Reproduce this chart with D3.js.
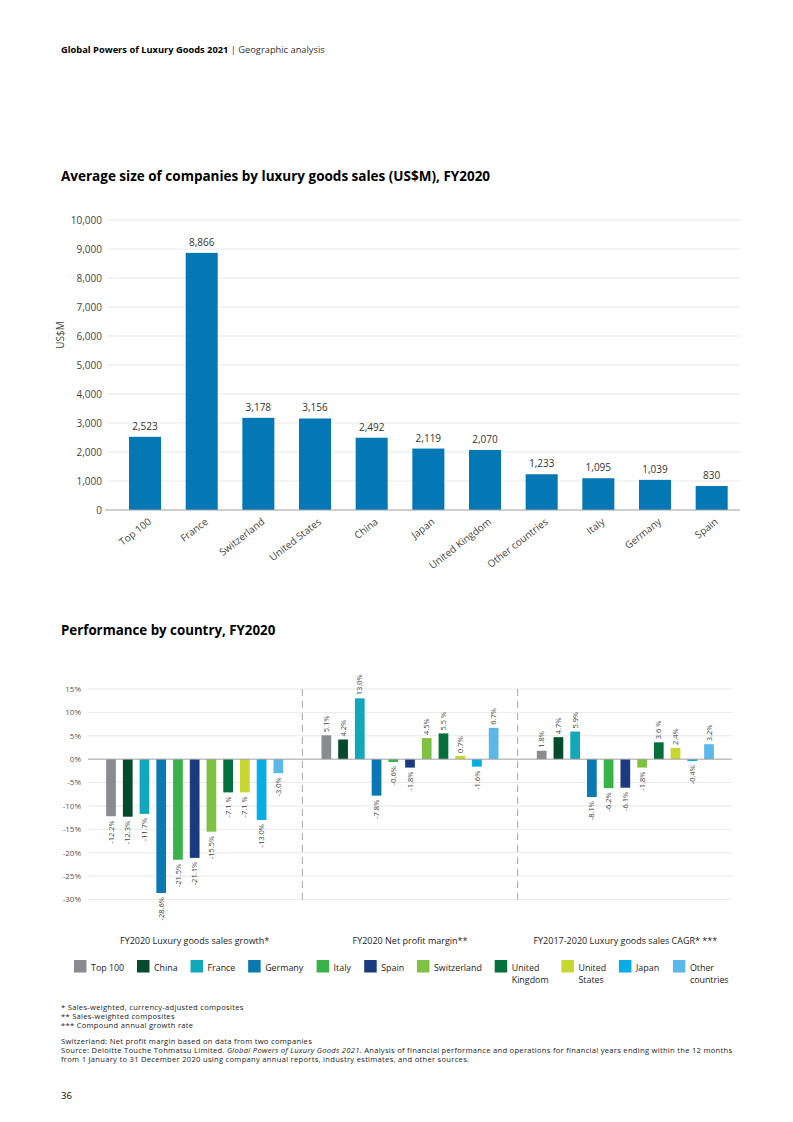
<!DOCTYPE html>
<html><head><meta charset="utf-8">
<script src="https://cdn.jsdelivr.net/npm/d3@7"></script>
<style>
body{margin:0;background:#fff}
svg{display:block;font-family:"Open Sans",sans-serif}
</style>
</head><body>
<svg id="c" width="793" height="1122"></svg>
<script>
// ---------- data: chart 1 ----------
const sizeCategories = ["Top 100","France","Switzerland","United States","China","Japan","United Kingdom","Other countries","Italy","Germany","Spain"];
const sizeValues = [2523,8866,3178,3156,2492,2119,2070,1233,1095,1039,830];
const sizeTicks = [0,1000,2000,3000,4000,5000,6000,7000,8000,9000,10000];

// ---------- data: chart 2 ----------
const perfCountries = ["Top 100","China","France","Germany","Italy","Spain","Switzerland","United Kingdom","United States","Japan","Other countries"];
const legendLines = [["Top 100"],["China"],["France"],["Germany"],["Italy"],["Spain"],["Switzerland"],["United","Kingdom"],["United","States"],["Japan"],["Other","countries"]];
const perfColors = ["#898b8e","#044a2c","#12a8bb","#0a78b3","#37b34a","#1b3a80","#7fc142","#05703c","#c7d72f","#06aee5","#5bb9e8"];
const perfMeasures = ["FY2020 Luxury goods sales growth*","FY2020 Net profit margin**","FY2017-2020 Luxury goods sales CAGR* ***"];
const salesGrowth = [-12.2,-12.3,-11.7,-28.6,-21.5,-21.1,-15.5,-7.1,-7.1,-13.0,-3.0];
const netMargin   = [5.1,4.2,13.0,-7.8,-0.6,-1.8,4.5,5.5,0.7,-1.6,6.7];
const cagr        = [1.8,4.7,5.9,-8.1,-6.2,-6.1,-1.8,3.6,2.4,-0.4,3.2];
const salesGrowthLabels = ["-12.2%","-12.3%","-11.7%","-28.6%","-21.5%","-21.1%","-15.5%","-7.1 %","-7.1 %","-13.0%","-3.0%"];
const netMarginLabels   = ["5.1%","4.2%","13.0%","-7.8%","-0.6%","-1.8%","4.5%","5.5 %","0.7%","-1.6%","6.7%"];
const cagrLabels        = ["1.8%","4.7%","5.9%","-8.1%","-6.2%","-6.1%","-1.8%","3.6 %","2.4%","-0.4%","3.2%"];
const perfTicks = [15,10,5,0,-5,-10,-15,-20,-25,-30];

const footnotes = ["* Sales-weighted, currency-adjusted composites","** Sales-weighted composites","*** Compound annual growth rate"];

const svg = d3.select("#c");
svg.append("rect").attr("width",793).attr("height",1122).attr("fill","#fff");

// header
const hdr = svg.append("text").attr("x",61).attr("y",53).attr("font-size",9.3).attr("fill","#000");
hdr.append("tspan").attr("font-weight",700).text("Global Powers of Luxury Goods 2021");
hdr.append("tspan").attr("fill","#333").text(" | Geographic analysis");

// ---------- chart 1 ----------
svg.append("text").attr("x",61).attr("y",181).attr("font-size",13.5).attr("font-weight",700).attr("fill","#000")
  .text("Average size of companies by luxury goods sales (US$M), FY2020");

const x1 = d3.scaleBand().domain(sizeCategories).range([116.7,740]).paddingInner(0.435).paddingOuter(0.2175);
const y1 = d3.scaleLinear().domain([0,10000]).range([510,220]);

const g1 = svg.append("g");
g1.selectAll("line.grid").data(sizeTicks.filter(d=>d>0)).join("line")
  .attr("x1",108).attr("x2",740).attr("y1",d=>y1(d)).attr("y2",d=>y1(d))
  .attr("stroke","#e3e3e3").attr("stroke-width",0.8);
const fmt = d3.format(",");
g1.selectAll("text.tick").data(sizeTicks).join("text")
  .attr("x",102).attr("y",d=>y1(d)).attr("dy","0.35em").attr("text-anchor","end")
  .attr("font-size",10).attr("fill","#444").text(d=>fmt(d));
g1.selectAll("rect.bar").data(sizeValues).join("rect")
  .attr("x",(d,i)=>x1(sizeCategories[i])).attr("width",x1.bandwidth())
  .attr("y",d=>y1(d)).attr("height",d=>y1(0)-y1(d)).attr("fill","#0378b4");
g1.append("line").attr("x1",105).attr("x2",740).attr("y1",y1(0)).attr("y2",y1(0)).attr("stroke","#a0a0a0").attr("stroke-width",1);
g1.selectAll("text.val").data(sizeValues).join("text")
  .attr("x",(d,i)=>x1(sizeCategories[i])+x1.bandwidth()/2).attr("y",d=>y1(d)-7)
  .attr("text-anchor","middle").attr("font-size",10).attr("fill","#333").text(d=>fmt(d));
g1.selectAll("text.cat").data(sizeCategories).join("text")
  .attr("transform",d=>`translate(${x1(d)+x1.bandwidth()/2+7},523) rotate(-38)`)
  .attr("text-anchor","end").attr("font-size",10).attr("fill","#444").text(d=>d);
svg.append("text").attr("transform","translate(64,335) rotate(-90)").attr("text-anchor","middle")
  .attr("font-size",10).attr("fill","#444").text("US$M");

// ---------- chart 2 ----------
svg.append("text").attr("x",61).attr("y",635).attr("font-size",13.3).attr("font-weight",700).attr("fill","#000")
  .text("Performance by country, FY2020");

const series = [
  {name:perfMeasures[0], values:salesGrowth, labels:salesGrowthLabels},
  {name:perfMeasures[1], values:netMargin, labels:netMarginLabels},
  {name:perfMeasures[2], values:cagr, labels:cagrLabels}
];
const xg = d3.scaleBand().domain(perfMeasures).range([87,733]);
const xc = d3.scaleBand().domain(perfCountries).range([0,xg.bandwidth()]).paddingInner(0.42).paddingOuter(1.145);
const y2 = d3.scaleLinear().domain([-30,15]).range([899.5,689]);

const g2 = svg.append("g");
g2.selectAll("line.grid").data(perfTicks.filter(d=>d!==0)).join("line")
  .attr("x1",88).attr("x2",732).attr("y1",d=>y2(d)).attr("y2",d=>y2(d))
  .attr("stroke","#e3e3e3").attr("stroke-width",0.8);
g2.selectAll("text.tick").data(perfTicks).join("text")
  .attr("x",81).attr("y",d=>y2(d)).attr("dy","0.35em").attr("text-anchor","end")
  .attr("font-size",8).attr("fill","#555").text(d=>d+"%");
// dashed separators
g2.selectAll("line.sep").data(perfMeasures.slice(1)).join("line")
  .attr("x1",d=>xg(d)).attr("x2",d=>xg(d)).attr("y1",y2(15)).attr("y2",y2(-30))
  .attr("stroke","#a8a8a8").attr("stroke-width",1).attr("stroke-dasharray","7,5");

series.forEach(s=>{
  const gs = g2.append("g").attr("transform",`translate(${xg(s.name)},0)`);
  gs.selectAll("rect").data(s.values).join("rect")
    .attr("x",(d,i)=>xc(perfCountries[i])).attr("width",xc.bandwidth())
    .attr("y",d=>y2(Math.max(0,d))).attr("height",d=>Math.abs(y2(d)-y2(0)))
    .attr("fill",(d,i)=>perfColors[i]);
  gs.selectAll("text").data(s.values).join("text")
    .attr("transform",(d,i)=>`translate(${xc(perfCountries[i])+xc.bandwidth()/2},${d>=0? y2(d)-3 : y2(d)+4}) rotate(-90)`)
    .attr("dy","0.35em").attr("text-anchor",d=>d>=0?"start":"end")
    .attr("font-size",7.5).attr("fill","#444").text((d,i)=>s.labels[i]);
  svg.append("text").attr("x",xg(s.name)+xg.bandwidth()/2).attr("y",944).attr("text-anchor","middle")
    .attr("font-size",9).attr("fill","#222").text(s.name);
});
g2.append("line").attr("x1",88).attr("x2",732).attr("y1",y2(0)).attr("y2",y2(0)).attr("stroke","#a0a0a0").attr("stroke-width",1);

// legend
const lg = svg.append("g");
let lx = 74;
legendLines.forEach((lines,i)=>{
  const item = lg.append("g").attr("transform",`translate(${lx},0)`);
  item.append("rect").attr("x",0).attr("y",960).attr("width",12.5).attr("height",12.5).attr("fill",perfColors[i]);
  const t = item.append("text").attr("x",17).attr("y",970.5).attr("font-size",8.9).attr("fill","#222");
  lines.forEach((ln,j)=>t.append("tspan").attr("x",17).attr("dy",j===0?0:12.5).text(ln));
  const w = t.node().getBBox().width;
  lx += 17 + w + 12.8;
});

// footnotes
const fn = svg.append("g").attr("font-size",7.6).attr("letter-spacing",0.28).attr("fill","#222");
footnotes.forEach((t,i)=>fn.append("text").attr("x",61).attr("y",1010+i*9.2).text(t));
fn.append("text").attr("x",61).attr("y",1044).text("Switzerland: Net profit margin based on data from two companies");
const src = fn.append("text").attr("x",61).attr("y",1053.2);
src.append("tspan").text("Source: Deloitte Touche Tohmatsu Limited. ");
src.append("tspan").attr("font-style","italic").text("Global Powers of Luxury Goods 2021");
src.append("tspan").text(". Analysis of financial performance and operations for financial years ending within the 12 months");
fn.append("text").attr("x",61).attr("y",1062.4).text("from 1 January to 31 December 2020 using company annual reports, industry estimates, and other sources.");
svg.append("text").attr("x",61).attr("y",1099).attr("font-size",9.5).attr("fill","#000").text("36");
</script>
</body></html>
